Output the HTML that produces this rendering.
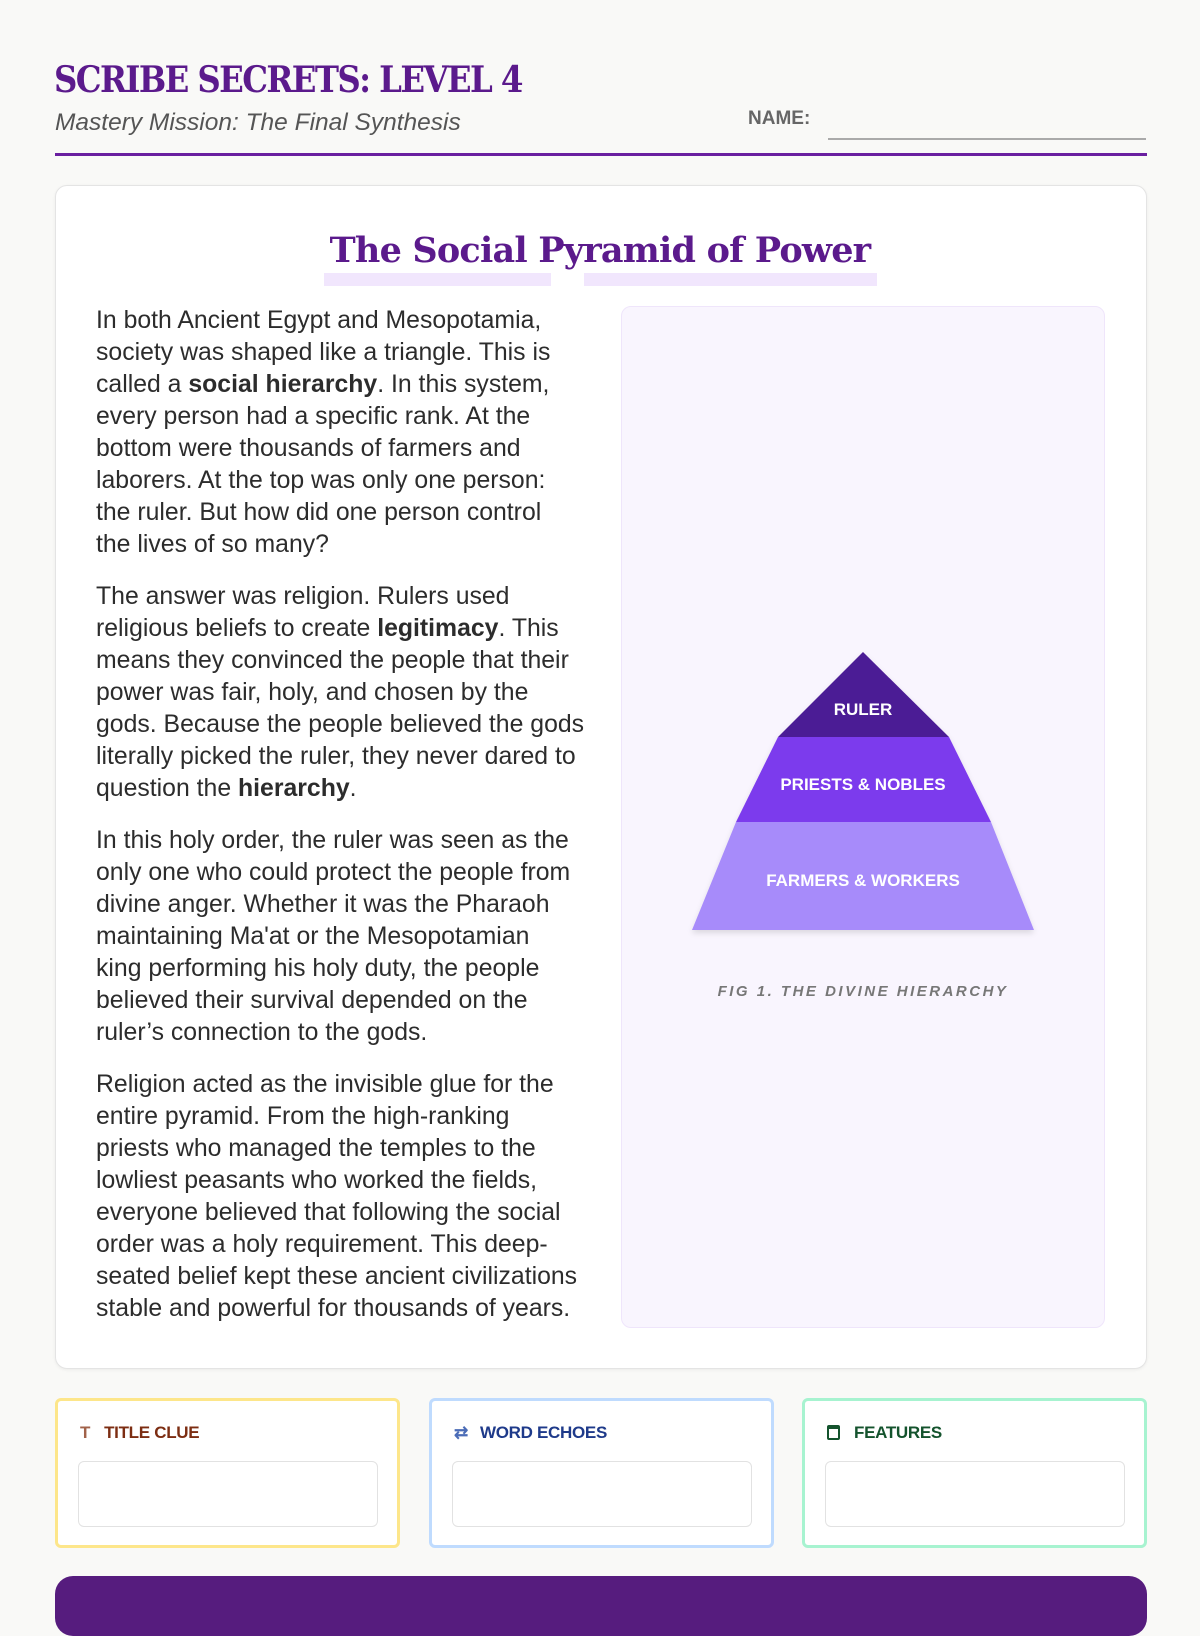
<!DOCTYPE html>
<html><head><meta charset="utf-8"><style>
*{box-sizing:border-box;margin:0;padding:0}
body{width:1200px;height:1600px;background:#f9f9f7;position:relative;overflow:hidden;font-family:"Liberation Sans",sans-serif;color:#2a2a2a}
.abs{position:absolute}
h1{position:absolute;left:54px;top:59px;font-family:"DejaVu Serif Condensed","Liberation Serif",serif;font-weight:bold;font-size:36px;color:#5b1a8c;letter-spacing:-1.6px;white-space:nowrap}
.sub{left:55px;top:109px;font-style:italic;font-size:24.5px;color:#555}
.name{left:748px;top:108px;font-weight:bold;font-size:19px;color:#666}
.nline{left:828px;top:138px;width:318px;height:2px;background:#aaa}
.rule{left:55px;top:153px;width:1092px;height:3px;background:#6a1fa0}
.card{left:55px;top:185px;width:1092px;height:1184px;background:#fff;border:1px solid #e4e4e4;border-radius:12px;box-shadow:0 1px 3px rgba(0,0,0,.06)}
.ttl{left:0;width:1200px;top:230px;text-align:center;font-family:"DejaVu Serif","Liberation Serif",serif;font-weight:bold;font-size:35px;color:#5b1a8c;letter-spacing:-0.8px;z-index:2}
.hl{background:#f1e6fd;height:13px;top:273px}
.txt{left:96px;top:305px;width:520px;font-size:24.8px;line-height:32px;color:#2c2c2c}
.txt p{margin-bottom:20px;white-space:nowrap}
.fig{left:621px;top:306px;width:484px;height:1022px;background:#f9f5fe;border:1px solid #efe5fb;border-radius:10px}
.cap{left:621px;width:484px;top:983px;text-align:center;font-style:italic;font-weight:bold;font-size:15px;letter-spacing:2.5px;color:#777}
.box{top:1398px;width:345px;height:150px;background:#fff;border:3px solid;border-radius:6px}
.lab{position:absolute;left:22px;top:22px;font-weight:bold;font-size:17px;letter-spacing:-0.3px}
.inp{position:absolute;left:20px;top:60px;width:300px;height:66px;border:1.5px solid #e2e2e2;border-radius:6px}
.bar{left:55px;top:1576px;width:1092px;height:60px;background:#561c7e;border-radius:18px}
</style></head><body>
<h1>SCRIBE SECRETS: LEVEL 4</h1>
<div class="abs sub">Mastery Mission: The Final Synthesis</div>
<div class="abs name">NAME:</div>
<div class="abs nline"></div>
<div class="abs rule"></div>
<div class="abs card"></div>
<div class="abs hl" style="left:324px;width:227px"></div>
<div class="abs hl" style="left:584px;width:293px"></div>
<div class="abs ttl">The Social Pyramid of Power</div>
<div class="abs txt">
<p>In both Ancient Egypt and Mesopotamia,<br>society was shaped like a triangle. This is<br>called a <b>social hierarchy</b>. In this system,<br>every person had a specific rank. At the<br>bottom were thousands of farmers and<br>laborers. At the top was only one person:<br>the ruler. But how did one person control<br>the lives of so many?</p>
<p>The answer was religion. Rulers used<br>religious beliefs to create <b>legitimacy</b>. This<br>means they convinced the people that their<br>power was fair, holy, and chosen by the<br>gods. Because the people believed the gods<br>literally picked the ruler, they never dared to<br>question the <b>hierarchy</b>.</p>
<p>In this holy order, the ruler was seen as the<br>only one who could protect the people from<br>divine anger. Whether it was the Pharaoh<br>maintaining Ma'at or the Mesopotamian<br>king performing his holy duty, the people<br>believed their survival depended on the<br>ruler’s connection to the gods.</p>
<p>Religion acted as the invisible glue for the<br>entire pyramid. From the high-ranking<br>priests who managed the temples to the<br>lowliest peasants who worked the fields,<br>everyone believed that following the social<br>order was a holy requirement. This deep-<br>seated belief kept these ancient civilizations<br>stable and powerful for thousands of years.</p>
</div>
<div class="abs fig"></div>
<svg class="abs" style="left:0;top:0" width="1200" height="1600">
<defs><filter id="s" x="-10%" y="-10%" width="120%" height="130%"><feDropShadow dx="0" dy="3" stdDeviation="3" flood-color="#000" flood-opacity="0.12"/></filter></defs>
<g filter="url(#s)">
<polygon points="692,930 1034,930 991,822 736,822" fill="#a78bfa"/>
<polygon points="736,822 991,822 949,737 778,737" fill="#7c3aed"/>
<polygon points="778,737 949,737 863,652" fill="#4c1d95"/>
</g>
<g font-family="Liberation Sans, sans-serif" font-weight="bold" font-size="17" fill="#fff" text-anchor="middle">
<text x="863" y="715">RULER</text>
<text x="863" y="790">PRIESTS &amp; NOBLES</text>
<text x="863" y="886">FARMERS &amp; WORKERS</text>
</g>
</svg>
<div class="abs cap">FIG 1. THE DIVINE HIERARCHY</div>
<div class="abs box" style="left:55px;border-color:#fde68a"><div class="lab" style="color:#7c2d12"><span style="color:#a16249;margin-right:14px">T</span>TITLE CLUE</div><div class="inp"></div></div>
<div class="abs box" style="left:429px;border-color:#bfdbfe"><div class="lab" style="color:#1e3a8a"><span style="color:#4b6cb7;margin-right:12px">⇄</span>WORD ECHOES</div><div class="inp"></div></div>
<div class="abs box" style="left:802px;border-color:#a7f3d0"><div class="lab" style="color:#14532d"><span style="display:inline-block;width:13px;height:15px;border:2px solid #14532d;border-radius:2px;margin-right:14px;vertical-align:-2px;box-shadow:inset 0 3px 0 -1px #14532d"></span>FEATURES</div><div class="inp"></div></div>
<div class="abs bar"></div>
</body></html>
